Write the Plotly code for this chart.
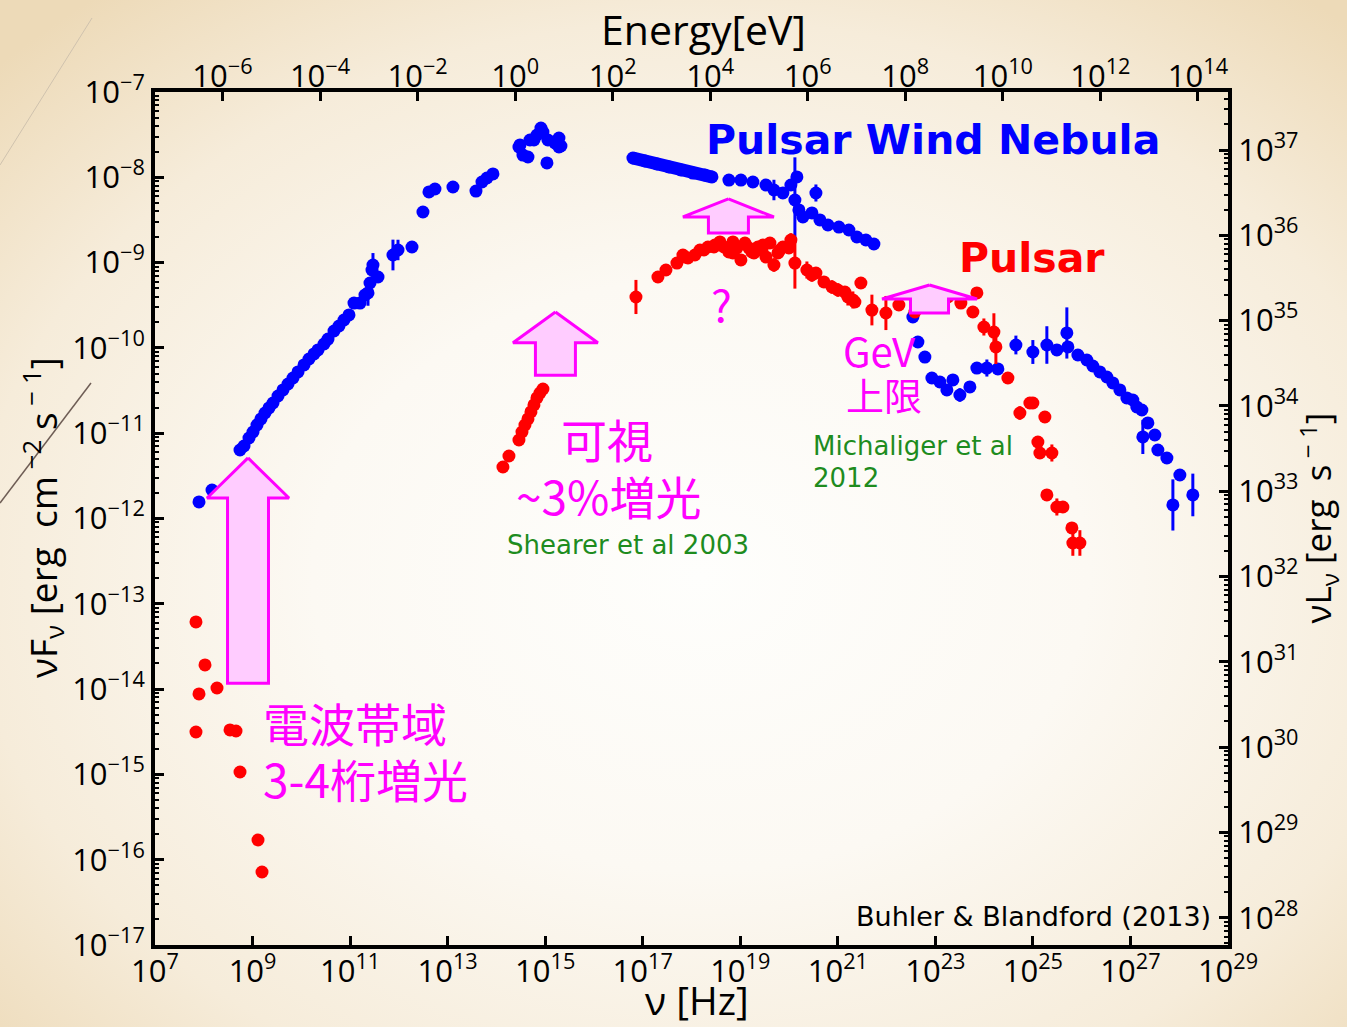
import base64
import numpy as np
import plotly.graph_objects as go

# ---------------- constants ----------------
H_EV = 4.135667e-15      # Planck constant [eV s]  (E = h nu)
LOG_4PI_D2 = 44.68       # log10(4 pi d^2) for the Crab (d ~ 2 kpc)  -> nuL_nu axis

# ---------------- data: log10(nu[Hz]), log10(nuF_nu[erg cm^-2 s^-1]), error [dex] ----------------
# Pulsar Wind Nebula: radio -> optical synchrotron
pwn_sync_lognu = [7.902, 8.169, 8.743, 8.825, 8.927, 9.009, 9.091, 9.173, 9.255, 9.337,
                  9.419, 9.522, 9.624, 9.727, 9.829, 9.932, 10.055, 10.157, 10.260, 10.342,
                  10.465, 10.547, 10.670, 10.772, 10.875, 10.977, 11.080, 11.203, 11.305, 11.367,
                  11.408, 11.449, 11.469, 11.572, 11.879, 11.982, 12.269, 12.494, 12.617, 12.740,
                  13.109, 13.581, 13.704, 13.806, 13.929, 14.462, 14.483, 14.544, 14.647, 14.688,
                  14.770, 14.831, 14.913, 14.954, 15.036, 15.057, 15.200, 15.282, 15.282, 15.323]
pwn_sync_logF = [-11.806, -11.666, -11.197, -11.150, -11.056, -10.986, -10.904, -10.833, -10.763, -10.704,
                 -10.646, -10.564, -10.493, -10.423, -10.353, -10.282, -10.200, -10.130, -10.071, -10.024,
                 -9.954, -9.896, -9.802, -9.743, -9.673, -9.614, -9.474, -9.474, -9.380, -9.356,
                 -9.239, -9.087, -9.028, -9.169, -8.911, -8.852, -8.817, -8.407, -8.172, -8.137,
                 -8.114, -8.161, -8.055, -8.008, -7.961, -7.645, -7.621, -7.739, -7.762, -7.563,
                 -7.563, -7.504, -7.422, -7.469, -7.832, -7.563, -7.598, -7.539, -7.645, -7.633]
pwn_sync_err = [0, 0, 0, 0, 0, 0, 0, 0, 0, 0,
                0, 0, 0, 0, 0, 0, 0, 0, 0, 0,
                0, 0, 0, 0, 0, 0, 0, 0, 0, 0.15,
                0, 0.08, 0.14, 0, 0.18, 0.12, 0, 0, 0, 0,
                0, 0, 0, 0, 0, 0, 0, 0, 0, 0,
                0, 0, 0, 0, 0, 0, 0, 0, 0, 0]

# PWN: soft X-ray (dense data, drawn as a thick band of points)
pwn_xray_lognu = [16.799, 17.045, 17.291, 17.537, 17.783, 18.029, 18.275, 18.419]
pwn_xray_logF = [-7.774, -7.809, -7.844, -7.879, -7.914, -7.950, -7.973, -7.996]

# PWN: hard X-ray / MeV
pwn_hx_lognu = [18.767, 19.013, 19.259, 19.526, 19.690, 19.874, 20.038, 20.161, 20.120, 20.202,
                20.284, 20.469, 20.551, 20.633, 20.797, 21.022, 21.227, 21.391, 21.576, 21.740]
pwn_hx_logF = [-8.032, -8.032, -8.055, -8.090, -8.149, -8.184, -8.090, -7.996, -8.266, -8.383,
               -8.465, -8.418, -8.184, -8.500, -8.559, -8.583, -8.618, -8.700, -8.735, -8.782]
pwn_hx_err = [0, 0, 0, 0, 0.12, 0, 0, 0, 0.5, 0,
              0, 0, 0.1, 0, 0, 0, 0, 0, 0, 0]

# PWN: GeV - TeV
pwn_gam_lognu = [22.539, 22.642, 22.785, 22.929, 23.093, 23.236, 23.359, 23.503, 23.708, 23.851,
                 24.056, 24.282, 24.651, 24.999, 25.286, 25.491, 25.696, 25.717, 25.922, 26.106,
                 26.229, 26.373, 26.516, 26.639, 26.783, 26.926, 27.049, 27.131, 27.234, 27.254,
                 27.357, 27.500, 27.562, 27.747, 28.013, 27.870, 28.279]
pwn_gam_logF = [-9.638, -9.931, -10.107, -10.353, -10.400, -10.493, -10.376, -10.552, -10.458, -10.236,
                -10.236, -10.247, -9.966, -10.048, -9.966, -10.024, -9.825, -9.989, -10.083, -10.142,
                -10.212, -10.282, -10.341, -10.411, -10.493, -10.587, -10.611, -10.693, -10.728, -11.044,
                -10.880, -11.021, -11.197, -11.291, -11.490, -11.841, -11.724]
pwn_gam_err = [0, 0, 0, 0, 0, 0, 0, 0.08, 0, 0,
               0.1, 0, 0.11, 0.14, 0.22, 0, 0.3, 0, 0, 0,
               0, 0, 0, 0, 0, 0, 0, 0, 0, 0.2,
               0, 0, 0, 0, 0.06, 0.3, 0.25]

# Pulsar: radio
psr_radio_lognu = [7.840, 8.025, 7.902, 8.271, 7.840, 8.538, 8.661, 8.743, 9.112, 9.194]
psr_radio_logF = [-13.213, -13.717, -14.057, -13.987, -14.503, -14.479, -14.491, -14.972, -15.769, -16.144]

# Pulsar: optical (Shearer et al 2003)
psr_opt_lognu = [14.134, 14.257, 14.462, 14.524, 14.585, 14.647, 14.708, 14.770, 14.831, 14.893, 14.954]
psr_opt_logF = [-11.396, -11.267, -11.080, -10.986, -10.904, -10.833, -10.751, -10.669, -10.587, -10.529, -10.482]

# Pulsar: X-ray -> gamma-ray
psr_he_lognu = [16.861, 17.312, 17.476, 17.701, 17.824, 17.927, 18.070, 18.173, 18.337, 18.480,
                18.583, 18.849, 19.095, 18.849, 19.013, 19.239, 19.362, 19.465, 19.608, 19.690,
                19.813, 19.874, 20.038, 20.120, 20.366, 20.551, 20.715, 20.879, 21.145, 21.309,
                21.473, 21.350, 21.699, 21.986, 22.252, 22.580, 22.847, 23.011, 23.257, 23.523,
                23.769, 23.851, 23.995, 24.200, 24.241, 24.487, 24.733, 24.938, 24.999, 25.245,
                25.102, 25.143, 25.389, 25.286, 25.491, 25.614, 25.799, 25.819, 25.963,
                17.865, 18.255, 18.460, 18.665, 18.767, 18.931, 19.177, 19.280, 19.444, 19.526,
                19.772, 19.997, 20.469, 21.002, 21.206]
psr_he_logF = [-9.403, -9.169, -9.087, -9.005, -8.911, -8.946, -8.911, -8.852, -8.817, -8.794,
               -8.758, -8.758, -8.770, -8.887, -8.969, -8.876, -8.817, -8.794, -8.770, -9.028,
               -8.852, -8.817, -8.735, -9.005, -9.087, -9.122, -9.227, -9.286, -9.345, -9.438,
               -9.239, -9.462, -9.556, -9.591, -9.497, -9.579, -9.474, -9.438, -9.403, -9.474,
               -9.579, -9.356, -9.755, -9.814, -9.989, -10.353, -10.763, -10.646, -10.646, -10.810,
               -11.103, -11.232, -11.232, -11.724, -11.865, -11.865, -12.111, -12.287, -12.287,
               -8.934, -8.852, -8.817, -8.817, -8.876, -8.829, -8.829, -8.887, -8.852, -8.934,
               -8.887, -8.829, -9.145, -9.321, -9.403]
psr_he_err = [0.2, 0, 0, 0, 0, 0, 0, 0, 0, 0,
              0, 0, 0, 0, 0, 0, 0, 0, 0, 0.08,
              0, 0, 0.08, 0.3, 0.1, 0, 0, 0.08, 0, 0.1,
              0, 0, 0.18, 0.2, 0, 0, 0, 0, 0, 0,
              0, 0, 0.1, 0.22, 0.2, 0, 0.08, 0, 0, 0,
              0, 0, 0.1, 0, 0.1, 0, 0, 0.15, 0.15,
              0, 0, 0, 0, 0, 0, 0, 0, 0, 0,
              0, 0, 0.08, 0.08, 0.1]

# ---------------- axis tick exponents ----------------
bottom_tick_exp = list(range(7, 30, 2))       # nu [Hz]
top_tick_exp = list(range(-6, 15, 2))         # Energy [eV]
left_tick_exp = list(range(-17, -6))          # nuF_nu
right_tick_exp = list(range(28, 38))          # nuL_nu

# ---------------- highlight arrows (log nu centre, tip, head base, tail, head half-width, shaft half-width) ----------------
arrow_cx = [8.907, 15.21, 18.757, 22.88]
arrow_tip = [-11.29, -9.58, -8.254, -9.263]
arrow_base = [-11.76, -9.94, -8.465, -9.427]
arrow_tail = [-13.93, -10.32, -8.653, -9.59]
arrow_head_hw = [0.84, 0.87, 0.933, 0.974]
arrow_shaft_hw = [0.42, 0.41, 0.41, 0.39]

BLUE = "#0000ff"
RED = "#ff0000"
MAGENTA = "#ff00ff"
PINK = "#ffccff"
GREEN = "#1e8c1e"


def sup(e):
    s = str(e) if e >= 0 else "\u2212" + str(-e)
    return "10<sup>" + s + "</sup>"


def errbar(logF, err, color):
    F = 10 ** np.array(logF)
    e = np.array(err, dtype=float)
    return dict(type="data", symmetric=False, array=F * (10 ** e - 1),
                arrayminus=F * (1 - 10 ** (-e)), thickness=3, width=0, color=color)


fig = go.Figure()

def pts(lognu, logF, color, err=None, size=13, name=""):
    kw = {}
    if err is not None:
        kw["error_y"] = errbar(logF, err, color)
    fig.add_trace(go.Scatter(x=10 ** np.array(lognu), y=10 ** np.array(logF), mode="markers",
                             marker=dict(color=color, size=size, line=dict(width=0)),
                             name=name, showlegend=False, hoverinfo="x+y", **kw))

# PWN
pts(pwn_sync_lognu, pwn_sync_logF, BLUE, pwn_sync_err, name="PWN radio-optical")
fig.add_trace(go.Scatter(x=10 ** np.array(pwn_xray_lognu), y=10 ** np.array(pwn_xray_logF),
                         mode="lines+markers", line=dict(color=BLUE, width=13),
                         marker=dict(color=BLUE, size=13), showlegend=False, name="PWN X-ray"))
pts(pwn_hx_lognu, pwn_hx_logF, BLUE, pwn_hx_err, name="PWN hard X")
pts(pwn_gam_lognu, pwn_gam_logF, BLUE, pwn_gam_err, name="PWN gamma")
# Pulsar
pts(psr_radio_lognu, psr_radio_logF, RED, None, size=13, name="Pulsar radio")
pts(psr_opt_lognu, psr_opt_logF, RED, None, size=13, name="Pulsar optical")
pts(psr_he_lognu, psr_he_logF, RED, psr_he_err, name="Pulsar high energy")

# arrows
for cx, tp, bs, tl, hh, sh in zip(arrow_cx, arrow_tip, arrow_base, arrow_tail, arrow_head_hw, arrow_shaft_hw):
    lx = [cx, cx + hh, cx + sh, cx + sh, cx - sh, cx - sh, cx - hh, cx]
    ly = [tp, bs, bs, tl, tl, bs, bs, tp]
    fig.add_trace(go.Scatter(x=10 ** np.array(lx), y=10 ** np.array(ly), mode="lines",
                             fill="toself", fillcolor=PINK, line=dict(color=MAGENTA, width=3),
                             showlegend=False, hoverinfo="skip"))

# dummy trace so the secondary (energy / luminosity) axes are drawn
fig.add_trace(go.Scatter(x=[1.0], y=[1e33], xaxis="x2", yaxis="y2", mode="markers",
                         marker=dict(opacity=0), showlegend=False, hoverinfo="skip"))

W, H = 1347, 1027
ML, MR, MT, MB = 155, 119, 92, 82
PW, PH = W - ML - MR, H - MT - MB


def paper(px, py):
    return (px - ML) / PW, (H - MB - py) / PH


TICKFONT = dict(family="Open Sans", size=31, color="black")
ax_common = dict(type="log", showgrid=False, zeroline=False, showline=True, linecolor="black",
                 linewidth=4, ticks="inside", ticklen=9, tickwidth=3, tickcolor="black",
                 tickfont=TICKFONT, tickmode="array")

minor_left = [k * 10.0 ** e for e in range(-17, -7) for k in range(2, 10)]
minor_right = [k * 10.0 ** e for e in range(27, 38) for k in range(2, 10)]

fig.update_layout(
    width=W, height=H, margin=dict(l=ML, r=MR, t=MT, b=MB),
    paper_bgcolor="rgba(0,0,0,0)", plot_bgcolor="rgba(0,0,0,0)",
    xaxis=dict(ax_common, range=[7, 29], tickvals=[10.0 ** e for e in bottom_tick_exp],
               ticktext=[sup(e) for e in bottom_tick_exp], side="bottom", ticklabelstandoff=-4),
    xaxis2=dict(ax_common, range=[7 + np.log10(H_EV), 29 + np.log10(H_EV)],
                tickvals=[10.0 ** e for e in top_tick_exp], ticktext=[sup(e) for e in top_tick_exp],
                side="top", overlaying="x", anchor="y", ticklabelstandoff=-11),
    yaxis=dict(ax_common, range=[-17, -7], tickvals=[10.0 ** e for e in left_tick_exp],
               ticktext=[sup(e) for e in left_tick_exp], side="left",
               minor=dict(tickmode="array", tickvals=minor_left, ticks="inside", ticklen=4,
                          tickwidth=2, tickcolor="black")),
    yaxis2=dict(ax_common, range=[-17 + LOG_4PI_D2, -7 + LOG_4PI_D2],
                tickvals=[10.0 ** e for e in right_tick_exp], ticktext=[sup(e) for e in right_tick_exp],
                side="right", overlaying="y", anchor="x",
                minor=dict(tickmode="array", tickvals=minor_right, ticks="inside", ticklen=4,
                           tickwidth=2, tickcolor="black")),
)

# background: soft radial gradient like the slide
svg = ('<svg xmlns="http://www.w3.org/2000/svg" width="1347" height="1027">'
       '<defs><radialGradient id="g" cx="0.52" cy="0.56" r="0.72">'
       '<stop offset="0" stop-color="#fefefc"/><stop offset="0.4" stop-color="#fcf9f3"/>'
       '<stop offset="0.75" stop-color="#f6ecda"/><stop offset="1" stop-color="#eddab8"/>'
       '</radialGradient></defs><rect width="1347" height="1027" fill="url(#g)"/></svg>')
src = "data:image/svg+xml;base64," + base64.b64encode(svg.encode()).decode()
x0p, y0p = paper(0, 0)
fig.add_layout_image(dict(source=src, xref="paper", yref="paper", x=x0p, y=y0p,
                          sizex=W / PW, sizey=H / PH, sizing="stretch", layer="below",
                          xanchor="left", yanchor="top"))

# decorative slide lines
for (ax0, ay0, ax1, ay1, col, wd) in [(0, 165, 92, 18, "#cfc2ae", 1), (0, 503, 91, 383, "#6e5d55", 1.5)]:
    p0 = paper(ax0, ay0)
    p1 = paper(ax1, ay1)
    fig.add_shape(type="line", xref="paper", yref="paper", x0=p0[0], y0=p0[1], x1=p1[0], y1=p1[1],
                  line=dict(color=col, width=wd))

CJK = "Noto Sans CJK JP"
LAT = "DejaVu Sans"


def note(text, lx, ly, color, size, family, xanchor="left", bold=False):
    fig.add_annotation(x=lx, y=ly, xref="x", yref="y", text=text, showarrow=False,
                       xanchor=xanchor, yanchor="middle", borderpad=0,
                       font=dict(family=family, size=size, color=color, weight="bold" if bold else "normal"))


note("Pulsar Wind Nebula", 22.95, -7.563, BLUE, 41, LAT, "center", True)
note("Pulsar", 24.98, -8.946, RED, 41, LAT, "center", True)
note("電波帯域", 9.194, -14.385, MAGENTA, 46, CJK)
note("3-4桁増光", 9.194, -15.042, MAGENTA, 46, CJK)
note("可視", 15.30, -11.056, MAGENTA, 46, CJK)
note("~3%増光", 14.38, -11.724, MAGENTA, 46, CJK)
note("Shearer et al 2003", 14.196, -12.31, GREEN, 26, LAT)
note("?", 18.62, -9.474, MAGENTA, 44, CJK, "center")
note("GeV", 21.08, -10.03, MAGENTA, 40, CJK)
note("上限", 21.145, -10.53, MAGENTA, 38, CJK)
note("Michaliger et al", 20.47, -11.15, GREEN, 26, LAT)
note("2012", 20.47, -11.525, GREEN, 26, LAT)
note("Buhler &amp; Blandford (2013)", 28.67, -16.67, "black", 27, LAT, "right")

# axis titles
def title(text, px, py, angle=0, size=40, xanchor="center", yanchor="middle"):
    xp, yp = paper(px, py)
    fig.add_annotation(x=xp, y=yp, xref="paper", yref="paper", text=text, showarrow=False,
                       textangle=angle, xanchor=xanchor, yanchor=yanchor, borderpad=0,
                       font=dict(family="Open Sans", size=size, color="black"))

title("Energy[eV]", 703, 0, 0, 41, yanchor="top")
title("ν [Hz]", 697, 1027, 0, 39, yanchor="bottom")
title("νF<sub>ν</sub> [erg  cm<sup> −2</sup> s<sup> − 1</sup>]", 42, 518, -90, 37)
title("νL<sub>ν</sub> [erg  s<sup> − 1</sup>]", 1346, 518, -90, 35, xanchor="right")

fig.write_html("out.html")
